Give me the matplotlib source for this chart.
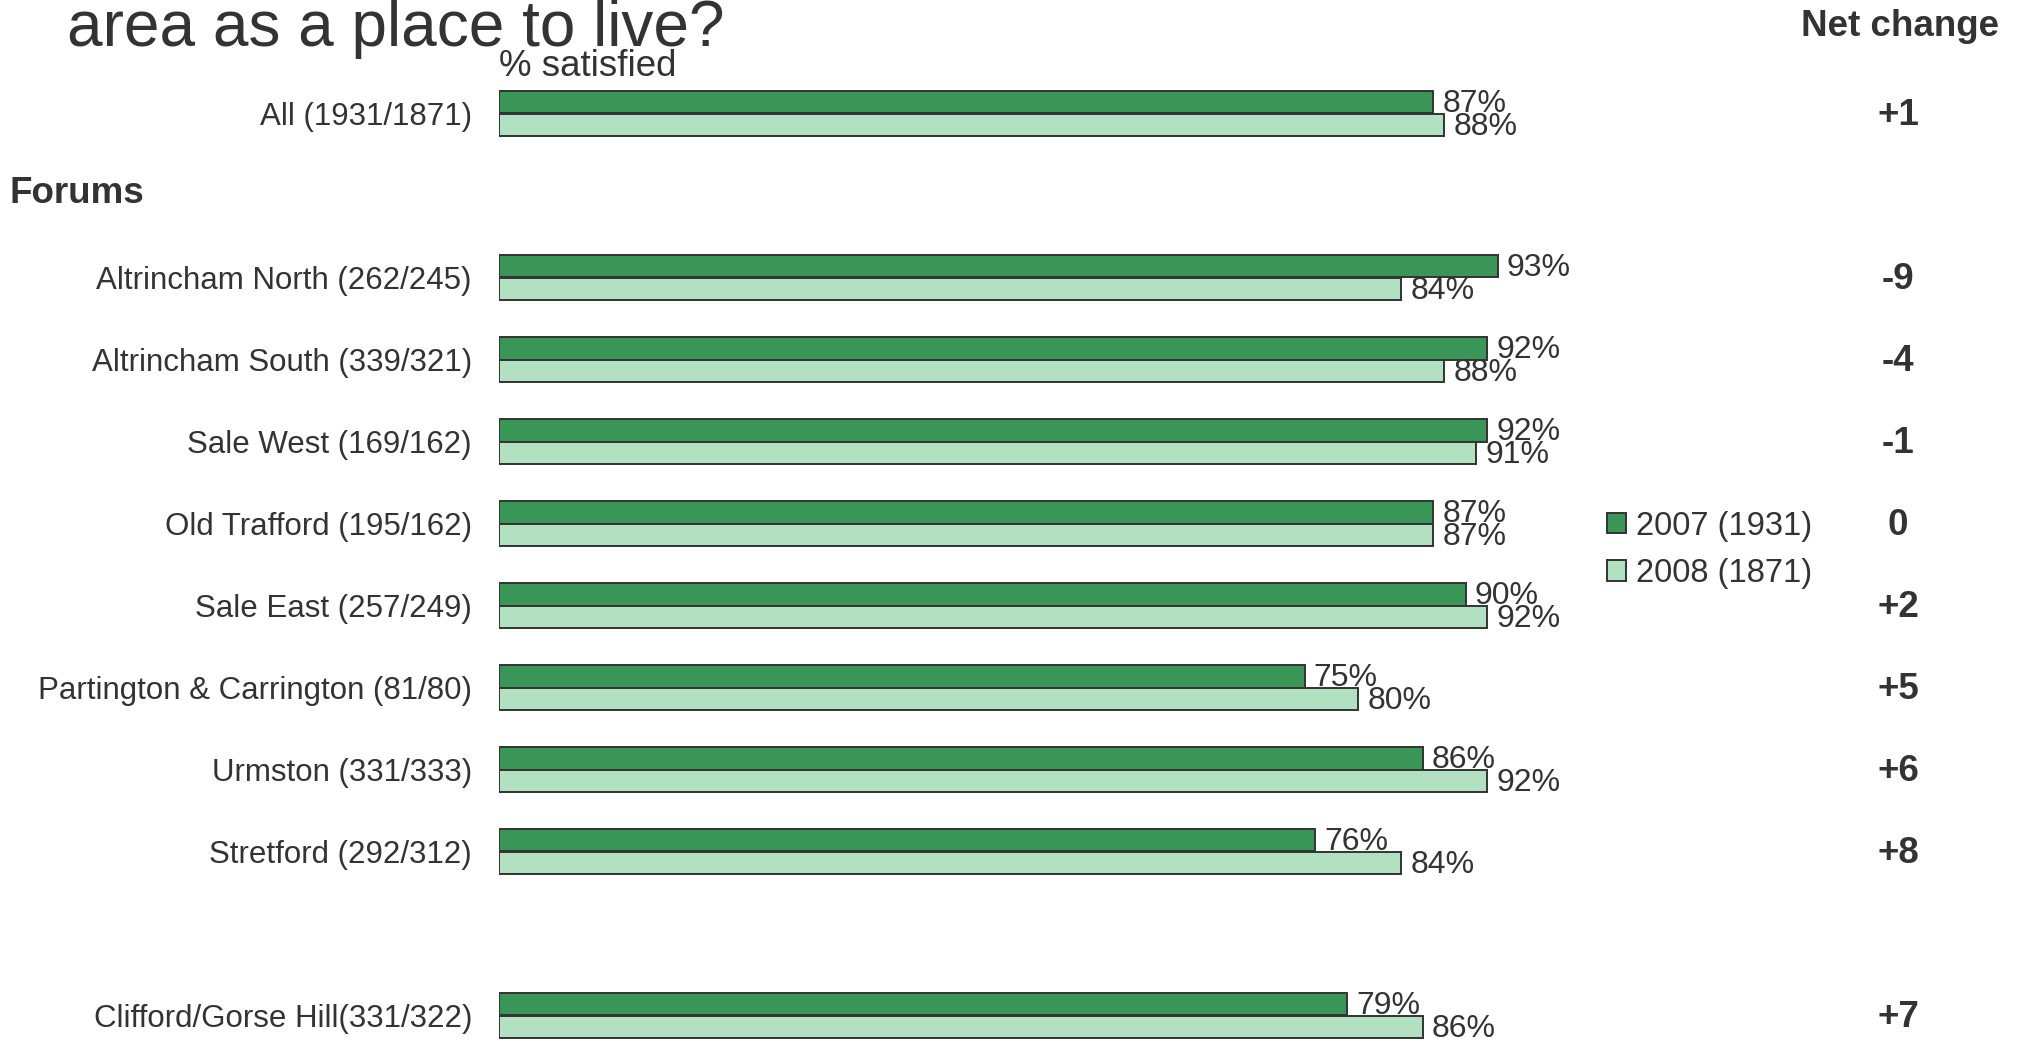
import matplotlib
matplotlib.use('Agg')
import matplotlib.pyplot as plt
import matplotlib.transforms as mtransforms

plt.rcParams['font.family'] = ['Liberation Sans', 'DejaVu Sans']

labels = ['All (1931/1871)', 'Altrincham North (262/245)', 'Altrincham South (339/321)',
          'Sale West (169/162)', 'Old Trafford (195/162)', 'Sale East (257/249)',
          'Partington & Carrington (81/80)', 'Urmston (331/333)', 'Stretford (292/312)',
          'Clifford/Gorse Hill(331/322)']
rows = [0, 2, 3, 4, 5, 6, 7, 8, 9, 11]
v2007 = [87, 93, 92, 92, 87, 90, 75, 86, 76, 79]
v2008 = [88, 84, 88, 91, 87, 92, 80, 92, 84, 86]
net = ['+1', '-9', '-4', '-1', '0', '+2', '+5', '+6', '+8', '+7']

dark = '#3a9656'
light = '#b1e1c1'
txt = '#333333'
W, H = 2022, 1041

fig = plt.figure(figsize=(W / 100, H / 100), dpi=100)
# bar axes: 0% at x=499px, 10.74 px per %
ax = fig.add_axes([499 / W, 0, 1074 / W, 1])
ax.set_xlim(0, 100)
ax.set_ylim((H - 113.5) / 82, -113.5 / 82)
ax.axis('off')

h = 0.28
yd = [r - h / 2 for r in rows]
yl = [r + h / 2 for r in rows]
b1 = ax.barh(yd, v2007, height=h, color=dark, edgecolor='#333333', linewidth=1.4, label='2007 (1931)')
b2 = ax.barh(yl, v2008, height=h, color=light, edgecolor='#333333', linewidth=1.4, label='2008 (1871)')

for y, v in zip(yd, v2007):
    ax.annotate(f'{v}%', (v, y + 0.03), xytext=(6.5, 0), textcoords='offset points',
                va='center', ha='left', fontsize=23, color=txt)
for y, v in zip(yl, v2008):
    ax.annotate(f'{v}%', (v, y + 0.03), xytext=(6.5, 0), textcoords='offset points',
                va='center', ha='left', fontsize=23, color=txt)

tr = mtransforms.blended_transform_factory(fig.transFigure, ax.transData)
for r, lab, n in zip(rows, labels, net):
    fig.text(472 / W, r + 0.04, lab, transform=tr, ha='right', va='center', fontsize=22.5, color=txt)
    fig.text(1898 / W, r + 0.03, n, transform=tr, ha='center', va='center', fontsize=26.5,
             fontweight='bold', color=txt)

fig.text(10 / W, 0.97, 'Forums', transform=tr, ha='left', va='center', fontsize=26.5,
         fontweight='bold', color=txt)
fig.text(67 / W, 1 - 46 / H, 'area as a place to live?', ha='left', va='baseline',
         fontsize=46, color=txt)
fig.text(499 / W, 1 - 66 / H, '% satisfied', ha='left', va='center', fontsize=26.5, color=txt)
fig.text(1900 / W, 1 - 26 / H, 'Net change', ha='center', va='center', fontsize=26.5,
         fontweight='bold', color=txt)

fig.legend(handles=[b1, b2], loc='center left', bbox_to_anchor=(1607 / W, 1 - 550 / H),
           frameon=False, fontsize=23.5, handlelength=0.58, handleheight=0.58,
           handletextpad=0.3, labelspacing=0.5, borderpad=0, borderaxespad=0,
           labelcolor=txt)

fig.savefig('out.png', dpi=100)
